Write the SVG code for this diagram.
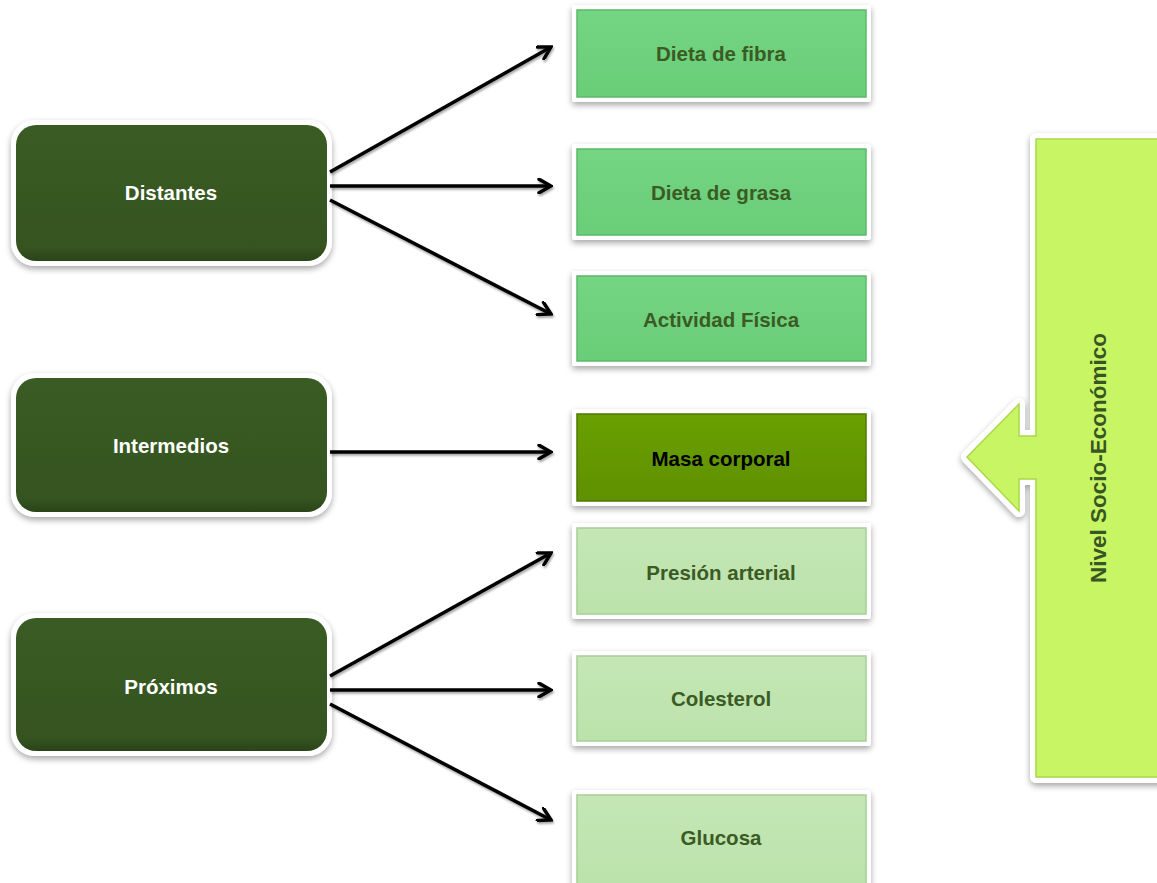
<svg xmlns="http://www.w3.org/2000/svg" width="1157" height="883" viewBox="0 0 1157 883">
<defs>
<filter id="sh" x="-10%" y="-10%" width="120%" height="130%">
<feDropShadow dx="0" dy="3" stdDeviation="3" flood-color="#000" flood-opacity="0.35"/>
</filter>
<filter id="lsh" filterUnits="userSpaceOnUse" x="0" y="0" width="1157" height="883">
<feDropShadow dx="1" dy="2" stdDeviation="1.2" flood-color="#000" flood-opacity="0.35"/>
</filter>
<linearGradient id="gDark" x1="0" y1="0" x2="0" y2="1">
<stop offset="0" stop-color="#3a5c24"/><stop offset="0.9" stop-color="#355420"/><stop offset="1" stop-color="#2a4419"/>
</linearGradient>
<linearGradient id="gMid" x1="0" y1="0" x2="0" y2="1">
<stop offset="0" stop-color="#74d583"/><stop offset="1" stop-color="#6acd77"/>
</linearGradient>
<linearGradient id="gMasa" x1="0" y1="0" x2="0" y2="1">
<stop offset="0" stop-color="#6aa000"/><stop offset="1" stop-color="#5f9000"/>
</linearGradient>
<linearGradient id="gLight" x1="0" y1="0" x2="0" y2="1">
<stop offset="0" stop-color="#c4e7b5"/><stop offset="1" stop-color="#bce2ab"/>
</linearGradient>
<marker id="ah" viewBox="0 0 14 14" refX="12" refY="7" markerWidth="16" markerHeight="16" markerUnits="userSpaceOnUse" orient="auto">
<path d="M1.5,1 L12,7 L1.5,13" fill="none" stroke="#000" stroke-width="3" stroke-linecap="round" stroke-linejoin="miter"/>
</marker>
<style>
.outer{fill:#fff;filter:url(#sh)}
.dark{fill:url(#gDark)}
.mid{fill:url(#gMid);stroke:#5cb86a;stroke-width:1.5}
.masa{fill:url(#gMasa);stroke:#4f7a00;stroke-width:1.5}
.light{fill:url(#gLight);stroke:#a5cf95;stroke-width:1.5}
.tl{font-family:"Liberation Sans",Arial,sans-serif;font-weight:bold;font-size:20.5px;fill:#fff;text-anchor:middle}
.tr{font-family:"Liberation Sans",Arial,sans-serif;font-weight:bold;font-size:20.5px;fill:#3b5b24;text-anchor:middle}
.tb{fill:#000}
.conn line{stroke:#000;stroke-width:3.5;marker-end:url(#ah)}
</style>
</defs>
<rect width="1157" height="883" fill="#fff"/>

<g id="distantes">
<rect class="outer" x="11" y="120" width="321" height="146" rx="24"/>
<rect class="dark" x="16" y="125" width="311" height="136" rx="20"/>
<text class="tl" x="171" y="200">Distantes</text>
</g>
<g id="intermedios">
<rect class="outer" x="11" y="373" width="321" height="144" rx="24"/>
<rect class="dark" x="16" y="378" width="311" height="134" rx="20"/>
<text class="tl" x="171" y="453">Intermedios</text>
</g>
<g id="proximos">
<rect class="outer" x="11" y="613" width="321" height="143" rx="24"/>
<rect class="dark" x="16" y="618" width="311" height="133" rx="20"/>
<text class="tl" x="171" y="694">Próximos</text>
</g>

<g id="dieta-fibra">
<rect class="outer" x="572" y="5" width="299" height="97" rx="3"/>
<rect class="mid" x="577" y="10" width="289" height="87"/>
<text class="tr" x="721" y="61">Dieta de fibra</text>
</g>
<g id="dieta-grasa">
<rect class="outer" x="572" y="144" width="299" height="96" rx="3"/>
<rect class="mid" x="577" y="149" width="289" height="86"/>
<text class="tr" x="721" y="200">Dieta de grasa</text>
</g>
<g id="actividad-fisica">
<rect class="outer" x="572" y="271" width="299" height="95" rx="3"/>
<rect class="mid" x="577" y="276" width="289" height="85"/>
<text class="tr" x="721" y="327">Actividad Física</text>
</g>
<g id="masa-corporal">
<rect class="outer" x="572" y="409" width="299" height="97" rx="3"/>
<rect class="masa" x="577" y="414" width="289" height="87"/>
<text class="tr tb" x="721" y="466">Masa corporal</text>
</g>
<g id="presion-arterial">
<rect class="outer" x="572" y="523" width="299" height="96" rx="3"/>
<rect class="light" x="577" y="528" width="289" height="86"/>
<text class="tr" x="721" y="580">Presión arterial</text>
</g>
<g id="colesterol">
<rect class="outer" x="572" y="651" width="299" height="95" rx="3"/>
<rect class="light" x="577" y="656" width="289" height="85"/>
<text class="tr" x="721" y="706">Colesterol</text>
</g>
<g id="glucosa">
<rect class="outer" x="572" y="790" width="299" height="100" rx="3"/>
<rect class="light" x="577" y="795" width="289" height="90"/>
<text class="tr" x="721" y="845">Glucosa</text>
</g>

<g id="nivel-socioeconomico">
<path d="M1036,139 H1165 V777 H1036 V479 H1019 V511 L967,457 L1019,404 V436 H1036 Z" fill="#fff" stroke="#fff" stroke-width="12" stroke-linejoin="round" filter="url(#sh)"/>
<path d="M1036,139 H1165 V777 H1036 V479 H1019 V511 L967,457 L1019,404 V436 H1036 Z" fill="#c8f564" stroke="#a9d84a" stroke-width="1.5"/>
<text x="1098" y="458" transform="rotate(-90 1098 458)" font-family="'Liberation Sans',Arial,sans-serif" font-weight="bold" font-size="22.5" fill="#375623" text-anchor="middle" dominant-baseline="central">Nivel Socio-Económico</text>
</g>

<g id="connectors" class="conn" filter="url(#lsh)">
<line x1="330" y1="172" x2="551" y2="47"/>
<line x1="330" y1="186" x2="551" y2="186"/>
<line x1="330" y1="200" x2="551" y2="314"/>
<line x1="330" y1="452" x2="551" y2="452"/>
<line x1="330" y1="676" x2="551" y2="553"/>
<line x1="330" y1="690" x2="551" y2="690"/>
<line x1="330" y1="704" x2="551" y2="820"/>
</g>
</svg>
